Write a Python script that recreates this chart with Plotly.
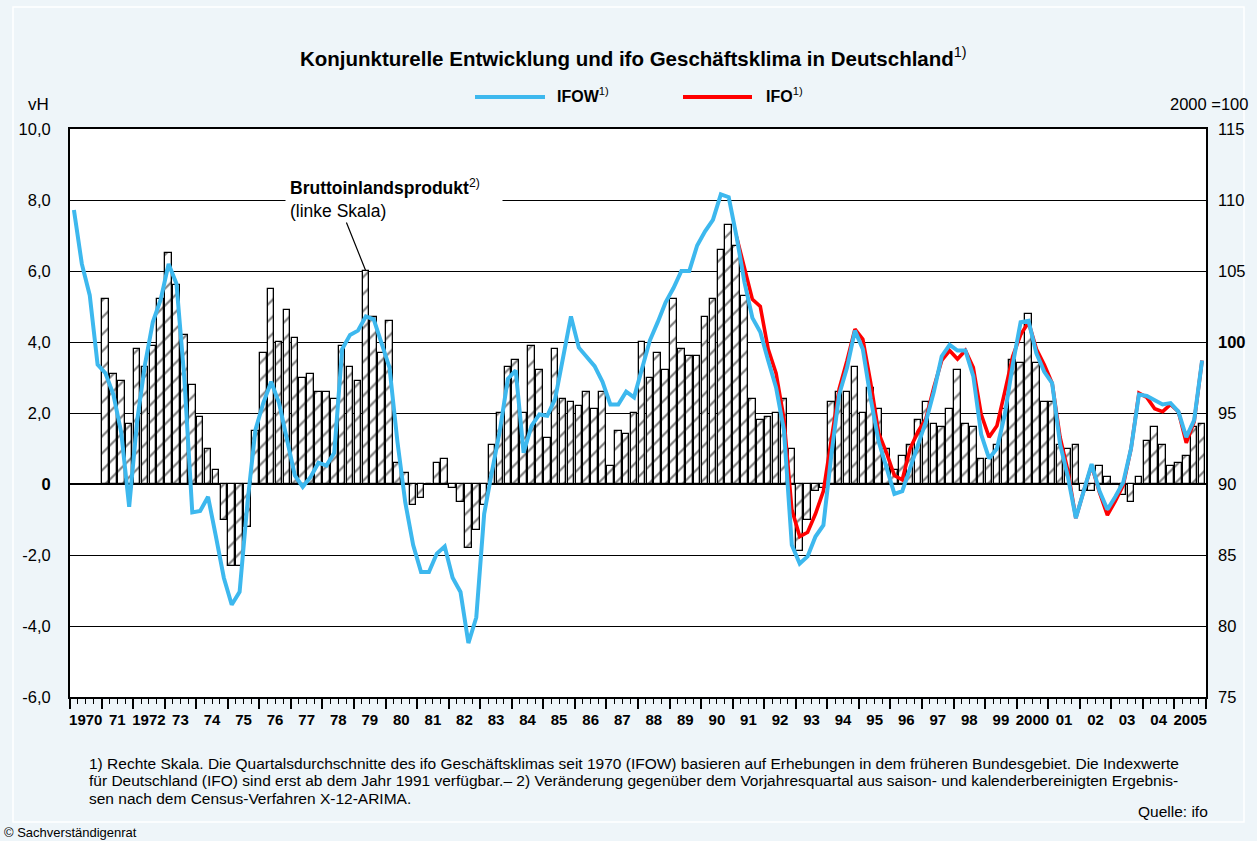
import numpy as np
import plotly.graph_objects as go

# ---------------- data ----------------
# Bruttoinlandsprodukt, Veränderung gegenüber Vorjahresquartal in vH, 1971Q1 .. 2005Q4
gdp_start_year = 1971
gdp = [
    5.2, 3.1, 2.9, 1.7,    # 1971
    3.8, 3.3, 3.9, 5.2,    # 1972
    6.5, 5.6, 4.2, 2.8,    # 1973
    1.9, 1.0, 0.4, -1.0,   # 1974
    -2.3, -2.3, -1.2, 1.5, # 1975
    3.7, 5.5, 4.0, 4.9,    # 1976
    4.1, 3.0, 3.1, 2.6,    # 1977
    2.6, 2.4, 3.9, 3.3,    # 1978
    2.9, 6.0, 4.7, 3.7,    # 1979
    4.6, 0.6, 0.3, -0.6,   # 1980
    -0.4, 0.0, 0.6, 0.7,   # 1981
    -0.1, -0.5, -1.8, -1.3,# 1982
    -0.6, 1.1, 2.0, 3.3,   # 1983
    3.5, 2.0, 3.9, 3.2,    # 1984
    1.3, 3.8, 2.4, 2.3,    # 1985
    2.2, 2.6, 2.1, 2.6,    # 1986
    0.5, 1.5, 1.4, 2.0,    # 1987
    4.0, 3.0, 3.7, 3.2,    # 1988
    5.2, 3.8, 3.6, 3.6,    # 1989
    4.7, 5.2, 6.6, 7.3,    # 1990
    6.7, 5.3, 2.4, 1.8,    # 1991
    1.9, 2.0, 2.4, 1.0,    # 1992
    -1.9, -1.0, -0.2, -0.1,# 1993
    2.3, 2.6, 2.6, 3.3,    # 1994
    2.0, 2.7, 2.1, 1.0,    # 1995
    0.4, 0.8, 1.1, 1.8,    # 1996
    2.3, 1.7, 1.6, 2.1,    # 1997
    3.2, 1.7, 1.6, 0.7,    # 1998
    0.7, 1.1, 2.1, 3.5,    # 1999
    3.4, 4.8, 3.4, 2.3,    # 2000
    2.3, 1.1, 1.0, 1.1,    # 2001
    -0.2, -0.2, 0.5, 0.2,  # 2002
    0.0, -0.3, -0.5, 0.2,  # 2003
    1.2, 1.6, 1.1, 0.5,    # 2004
    0.6, 0.8, 1.6, 1.7,    # 2005
]

# ifo Geschäftsklima früheres Bundesgebiet (IFOW), 2000 = 100, 1970Q1 .. 2005Q4
ifow_start_year = 1970
ifow = [
    109.3, 105.5, 103.3, 98.4,   # 1970
    97.8, 96.3, 93.6, 88.4,      # 1971
    94.4, 98.4, 101.4, 103.0,    # 1972
    105.5, 104.1, 97.4, 88.0,    # 1973
    88.1, 89.1, 86.3, 83.4,      # 1974
    81.5, 82.4, 88.7, 93.8,      # 1975
    95.7, 97.2, 95.7, 93.0,      # 1976
    90.6, 89.8, 90.5, 91.5,      # 1977
    91.3, 92.2, 99.5, 100.5,     # 1978
    100.8, 101.8, 101.6, 99.9,   # 1979
    98.2, 93.0, 88.7, 85.7,      # 1980
    83.8, 83.8, 85.1, 85.6,      # 1981
    83.4, 82.4, 78.8, 80.6,      # 1982
    87.9, 90.9, 93.8, 97.4,      # 1983
    98.0, 92.2, 94.1, 94.9,      # 1984
    94.8, 96.0, 99.0, 101.8,     # 1985
    99.6, 99.0, 98.3, 97.2,      # 1986
    95.6, 95.6, 96.5, 96.1,      # 1987
    98.2, 100.1, 101.4, 102.8,   # 1988
    103.8, 105.0, 105.0, 106.8,  # 1989
    107.8, 108.6, 110.4, 110.2,  # 1990
    107.4, 104.2, 101.7, 100.7,  # 1991
    98.7, 96.8, 93.8, 85.7,      # 1992
    84.4, 84.9, 86.3, 87.1,      # 1993
    92.0, 96.3, 98.2, 100.8,     # 1994
    99.5, 96.0, 93.0, 91.1,      # 1995
    89.3, 89.5, 91.1, 92.8,      # 1996
    94.4, 96.5, 99.0, 99.8,      # 1997
    99.4, 99.4, 97.6, 93.5,      # 1998
    91.8, 92.5, 94.9, 98.4,      # 1999
    101.4, 101.5, 99.2, 97.9,    # 2000
    97.1, 92.8, 90.5, 87.6,      # 2001
    89.5, 91.4, 89.5, 88.2,      # 2002
    89.1, 90.1, 92.5, 96.3,      # 2003
    96.2, 95.9, 95.6, 95.7,      # 2004
    95.1, 93.3, 94.5, 98.7,      # 2005
]

# ifo Geschäftsklima Deutschland (IFO), 2000 = 100, 1991Q1 .. 2005Q4
ifo_start_year = 1991
ifo = [
    107.4, 105.1, 103.0, 102.5,  # 1991
    99.5, 97.8, 94.6, 88.2,      # 1992
    86.3, 86.6, 87.9, 89.5,      # 1993
    93.0, 96.7, 98.7, 100.9,     # 1994
    100.2, 97.1, 93.6, 92.2,     # 1995
    90.6, 90.3, 92.5, 93.7,      # 1996
    94.6, 96.8, 98.7, 99.4,      # 1997
    98.8, 99.4, 98.2, 94.9,      # 1998
    93.3, 94.1, 96.5, 99.0,      # 1999
    100.5, 101.4, 99.5, 98.4,    # 2000
    97.1, 93.3, 90.9, 87.6,      # 2001
    89.5, 91.3, 89.4, 87.8,      # 2002
    88.8, 89.9, 92.5, 96.4,      # 2003
    96.1, 95.3, 95.1, 95.6,      # 2004
    95.1, 92.9, 94.4, 98.7,      # 2005
]

years = list(range(1970, 2006))
year_labels = ["1970", "71", "1972", "73", "74", "75", "76", "77", "78", "79",
               "80", "81", "82", "83", "84", "85", "86", "87", "88", "89",
               "90", "91", "92", "93", "94", "95", "96", "97", "98", "99",
               "2000", "01", "02", "03", "04", "2005"]
left_ticks = [-6, -4, -2, 0, 2, 4, 6, 8, 10]
left_labels = ["-6,0", "-4,0", "-2,0", "<b>0</b>", "2,0", "4,0", "6,0", "8,0", "10,0"]
right_ticks = [75, 80, 85, 90, 95, 100, 105, 110, 115]
right_labels = ["75", "80", "85", "90", "95", "<b>100</b>", "105", "110", "115"]

title_text = "<b>Konjunkturelle Entwicklung und ifo Geschäftsklima in Deutschland</b><sup>1)</sup>"
footnote_lines = [
    "1) Rechte Skala. Die Quartalsdurchschnitte des ifo Geschäftsklimas seit 1970 (IFOW) basieren auf Erhebungen in dem früheren Bundesgebiet. Die Indexwerte",
    "für Deutschland (IFO) sind erst ab dem Jahr 1991 verfügbar.– 2) Veränderung gegenüber dem Vorjahresquartal aus saison- und kalenderbereinigten Ergebnis-",
    "sen nach dem Census-Verfahren X-12-ARIMA.",
]


def quarter_positions(start_year, n):
    i = np.arange(n)
    return start_year + (i // 4) + ((i % 4) + 0.5) / 4.0


gdp_x = quarter_positions(gdp_start_year, len(gdp))
ifow_x = quarter_positions(ifow_start_year, len(ifow))
ifo_x = quarter_positions(ifo_start_year, len(ifo))

# ---------------- layout geometry ----------------
W, H = 1257, 841
ML, MR, MT, MB = 70, 51, 129, 144
PW, PH = W - ML - MR, H - MT - MB


def px(x):
    return (x - ML) / PW


def py(y):
    return (H - MB - y) / PH


FONT = "Liberation Sans, Arial, sans-serif"
BLUE = "#3DB8EE"
RED = "#FF0000"
BG = "#EEF5F9"

fig = go.Figure()

fig.add_trace(go.Bar(
    x=gdp_x, y=gdp, width=0.21, name="Bruttoinlandsprodukt",
    marker=dict(color="white", line=dict(color="black", width=1.3),
                pattern=dict(shape="/", fgcolor="black", bgcolor="white",
                             size=12, solidity=0.18)),
    showlegend=False, yaxis="y",
))
fig.add_trace(go.Scatter(
    x=ifo_x, y=ifo, mode="lines", name="IFO",
    line=dict(color=RED, width=3.6), yaxis="y2", showlegend=False,
))
fig.add_trace(go.Scatter(
    x=ifow_x, y=ifow, mode="lines", name="IFOW",
    line=dict(color=BLUE, width=4), yaxis="y2", showlegend=False,
))
# carrier for centred year labels
fig.add_trace(go.Scatter(
    x=[y + 0.5 for y in years], y=[None] * len(years), xaxis="x2", yaxis="y",
    mode="markers", showlegend=False, hoverinfo="skip",
))

fig.update_layout(
    width=W, height=H,
    margin=dict(l=ML, r=MR, t=MT, b=MB),
    paper_bgcolor=BG, plot_bgcolor="white",
    font=dict(family=FONT, size=16, color="black"),
    bargap=0,
    xaxis=dict(
        range=[1970, 2006], tickvals=years + [2006], ticktext=[""] * (len(years) + 1),
        ticks="outside", ticklen=10, tickwidth=2, tickcolor="black",
        minor=dict(ticks="outside", ticklen=5, tickwidth=1.4, tickcolor="black",
                   dtick=0.25, tick0=1970, showgrid=False),
        showline=True, linewidth=2, linecolor="black", mirror=True,
        showgrid=False, zeroline=False, fixedrange=True,
    ),
    xaxis2=dict(
        range=[1970, 2006], overlaying="x", anchor="y", side="bottom",
        tickvals=[y + 0.5 for y in years], ticktext=["<b>%s</b>" % t for t in year_labels],
        ticks="", showline=False, showgrid=False, zeroline=False,
        tickfont=dict(size=15, family=FONT), ticklabelstandoff=12,
    ),
    yaxis=dict(
        range=[-6, 10], tickvals=left_ticks, ticktext=left_labels,
        showgrid=True, gridcolor="black", gridwidth=1,
        zeroline=True, zerolinecolor="black", zerolinewidth=2,
        showline=True, linewidth=2, linecolor="black", mirror=True,
        ticks="", ticklabelstandoff=14, tickfont=dict(size=16.5),
    ),
    yaxis2=dict(
        range=[75, 115], overlaying="y", side="right",
        tickvals=right_ticks, ticktext=right_labels,
        showgrid=False, zeroline=False, showline=False,
        ticks="", ticklabelstandoff=11, tickfont=dict(size=16.5),
    ),
)

shapes = [
    # legend samples
    dict(type="line", xref="paper", yref="paper", x0=px(475), x1=px(545), y0=py(97), y1=py(97),
         line=dict(color=BLUE, width=4)),
    dict(type="line", xref="paper", yref="paper", x0=px(683), x1=px(752), y0=py(97), y1=py(97),
         line=dict(color=RED, width=4)),
    # panel outline
    dict(type="rect", xref="paper", yref="paper", x0=px(13), x1=px(1244), y0=py(822), y1=py(7),
         line=dict(color="white", width=1.5), layer="below"),
]
fig.update_layout(shapes=shapes)

# position of the 1979Q2 bar, taken from the data arrays
i79 = (1979 - gdp_start_year) * 4 + 1

annotations = [
    dict(text=title_text, xref="paper", yref="paper", x=px(633), y=py(57),
         xanchor="center", yanchor="middle", showarrow=False, font=dict(size=20.5)),
    dict(text="<b>IFOW</b><sup>1)</sup>", xref="paper", yref="paper", x=px(555), y=py(95),
         xanchor="left", yanchor="middle", showarrow=False, font=dict(size=16)),
    dict(text="<b>IFO</b><sup>1)</sup>", xref="paper", yref="paper", x=px(764), y=py(95),
         xanchor="left", yanchor="middle", showarrow=False, font=dict(size=16)),
    dict(text="vH", xref="paper", yref="paper", x=px(26), y=py(104),
         xanchor="left", yanchor="middle", showarrow=False, font=dict(size=17)),
    dict(text="2000 =100", xref="paper", yref="paper", x=px(1250), y=py(104),
         xanchor="right", yanchor="middle", showarrow=False, font=dict(size=16.5)),
    dict(text="<b>Bruttoinlandsprodukt</b><sup>2)</sup><br>(linke Skala)",
         xref="paper", yref="paper", x=px(285), y=py(198), xanchor="left", yanchor="middle",
         align="left", width=208, bgcolor="white", borderpad=4, showarrow=False,
         font=dict(size=17.5)),
    dict(text="", x=float(gdp_x[i79]), y=gdp[i79], xref="x", yref="y",
         showarrow=True, arrowhead=0, arrowwidth=1.2, arrowcolor="black",
         ax=-20, ay=-50, standoff=0),
    dict(text="Quelle: ifo", xref="paper", yref="paper", x=px(1210), y=py(811),
         xanchor="right", yanchor="middle", showarrow=False, font=dict(size=15.5)),
    dict(text="© Sachverständigenrat", xref="paper", yref="paper", x=px(2), y=py(832),
         xanchor="left", yanchor="middle", showarrow=False, font=dict(size=13)),
]
for k, line in enumerate(footnote_lines):
    annotations.append(dict(text=line, xref="paper", yref="paper", x=px(87), y=py(763 + 17.5 * k),
                            xanchor="left", yanchor="middle", align="left", showarrow=False,
                            font=dict(size=15.5)))
fig.update_layout(annotations=annotations)

fig.write_html("out.html", config={"displayModeBar": False},
               post_script="document.body.style.margin='0px';document.body.style.background='" + BG + "';")
